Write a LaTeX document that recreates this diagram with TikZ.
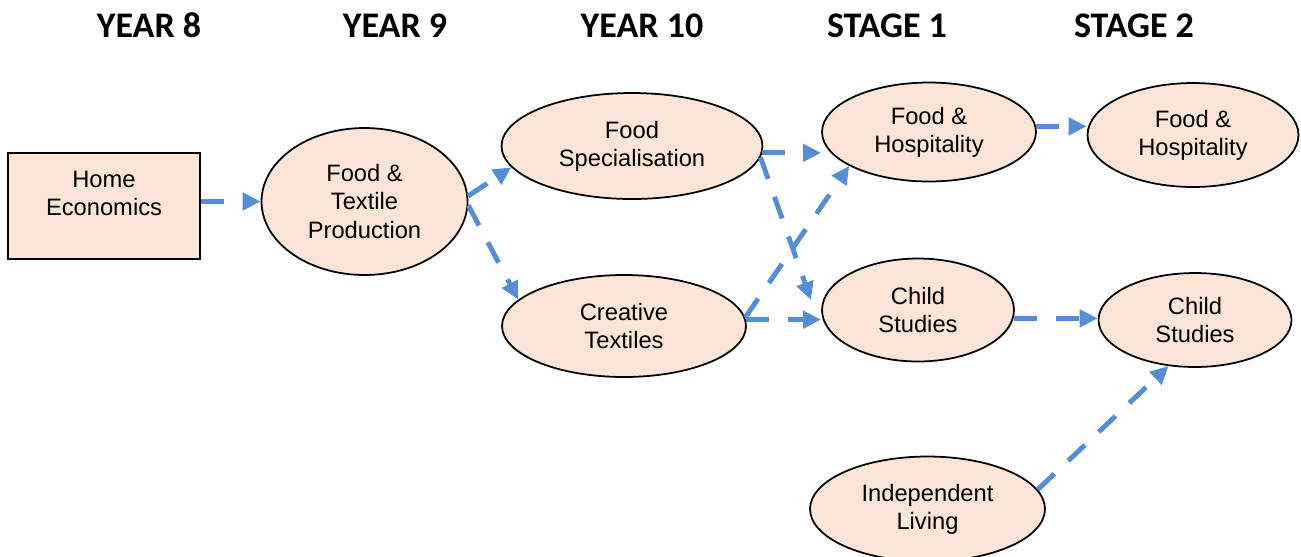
\documentclass[tikz,border=0pt]{standalone}
\usepackage{fontspec}
\setmainfont{Liberation Sans}
\newfontfamily\headfont{Carlito}
\usetikzlibrary{shapes.geometric, arrows.meta}
\definecolor{topicfill}{RGB}{251, 229, 214}
\definecolor{flowblue}{RGB}{85, 142, 213}
\tikzset{
    heading/.style={font=\headfont\bfseries\fontsize{20.5}{24}\selectfont, inner sep=0pt},
    topic/.style={ellipse, draw, line width=1pt, fill=topicfill, align=center, inner sep=0pt,
        font=\fontsize{13.5}{16}\selectfont},
    flow/.style={draw=flowblue, line width=2.8pt, dash pattern=on 0.46cm off 0.38cm,
        -{Triangle[length=0.36cm, width=0.34cm]}},
}

\begin{document}
\begin{tikzpicture}[x=0.02cm, y=-0.02cm]
    \useasboundingbox (0, 0) rectangle (1301, 556);
    % column headings
    \node[heading] (yr8) at (149, 25.5) {YEAR 8};
    \node[heading] (yr9) at (395, 25.5) {YEAR 9};
    \node[heading] (yr10) at (642, 25.5) {YEAR 10};
    \node[heading] (stg1) at (887, 25.5) {STAGE 1};
    \node[heading] (stg2) at (1134, 25.5) {STAGE 2};
    % subjects
    \node[draw, line width=1pt, fill=topicfill, minimum width=3.84cm, minimum height=2.12cm]
        (home) at (104, 206) {};
    \node[align=center, inner sep=0pt, font=\fontsize{13.5}{16}\selectfont]
        (hometext) at (104, 193) {Home\\Economics};
    \node[topic, minimum width=4.12cm, minimum height=2.94cm] (ftp) at (364.5, 201.5)
        {Food \&\\Textile\\Production};
    \node[topic, minimum width=5.22cm, minimum height=2.12cm] (fspec) at (632, 146)
        {Food\\Specialisation};
    \node[topic, minimum width=4.88cm, minimum height=2.04cm] (ctex) at (624, 326)
        {Creative\\Textiles};
    \node[topic, minimum width=4.28cm, minimum height=1.98cm] (fhosp1) at (929, 132)
        {Food \&\\Hospitality};
    \node[topic, minimum width=3.84cm, minimum height=2.06cm] (child1) at (918, 310)
        {Child\\Studies};
    \node[topic, minimum width=4.7cm, minimum height=2.1cm] (indep) at (927.5, 509)
        {Independent\\Living};
    \node[topic, minimum width=4.22cm, minimum height=2.08cm] (fhosp2) at (1193, 135)
        {Food \&\\Hospitality};
    \node[topic, minimum width=3.86cm, minimum height=1.88cm] (child2) at (1195, 320)
        {Child\\Studies};
    % pathways
    \draw[flow] (home.east |- ftp.west) -- (ftp.west);
    \draw[flow] (ftp.3) -- (fspec.190);
    \draw[flow] (ftp.-2) -- (ctex.166);
    \draw[flow] (fspec.-3) -- (fspec.-3 -| fhosp1.west);
    \draw[flow] (fspec.-5) -- ([shift={(-12, 0)}]child1.174);
    \draw[flow] (ctex.4) -- (fhosp1.203);
    \draw[flow] (ctex.3) -- (ctex.3 -| child1.west);
    \draw[flow] (fhosp1.3) -- (fhosp1.3 -| fhosp2.west);
    \draw[flow] (child1.-5) -- (child1.-5 -| child2.west);
    \draw[flow] (indep.10) -- (child2.240);
\end{tikzpicture}
\end{document}
